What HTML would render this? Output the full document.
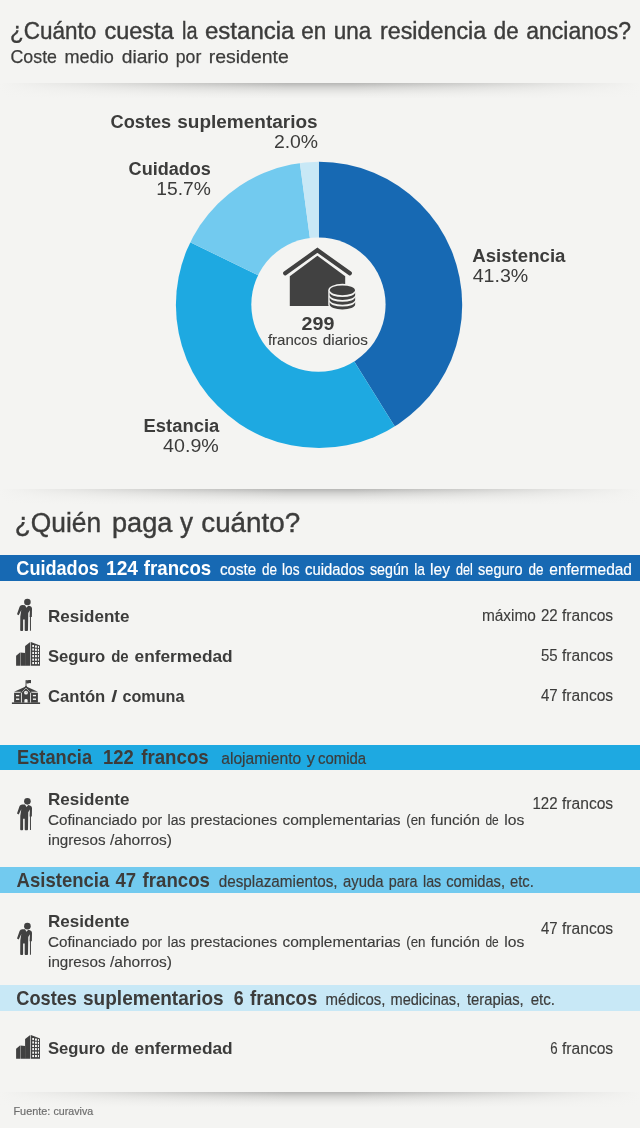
<!DOCTYPE html>
<html><head><meta charset="utf-8"><title>Residencia de ancianos</title>
<style>
html,body{margin:0;padding:0}
body{width:640px;height:1128px;background:#f4f4f2;position:relative;overflow:hidden;font-family:"Liberation Sans",sans-serif}
.t{position:absolute;white-space:nowrap;line-height:1;transform-origin:0 0;will-change:transform}
.b{font-weight:bold}
.bar{position:absolute;left:0;width:640px}
.sh{position:absolute;left:0;width:640px;height:16px;background:linear-gradient(to right,rgba(244,244,242,1) 0%,rgba(244,244,242,0.75) 12%,rgba(244,244,242,0.35) 28%,rgba(244,244,242,0) 45%,rgba(244,244,242,0) 55%,rgba(244,244,242,0.35) 72%,rgba(244,244,242,0.75) 88%,rgba(244,244,242,1) 100%),linear-gradient(to bottom,rgba(0,0,0,0.25) 0px,rgba(0,0,0,0.2) 2px,rgba(0,0,0,0.14) 4px,rgba(0,0,0,0.075) 7.5px,rgba(0,0,0,0.03) 11px,rgba(0,0,0,0) 15.5px)}
</style></head>
<body>
<div class="sh" style="top:83px"></div>
<div class="sh" style="top:489px"></div>
<div class="sh" style="top:1092px"></div>
<div class="bar" style="top:555px;height:26px;background:#1769b3"></div>
<div class="bar" style="top:744.5px;height:25px;background:#1ea9e1"></div>
<div class="bar" style="top:867px;height:25.5px;background:#72caef"></div>
<div class="bar" style="top:985px;height:26px;background:#c8e8f6"></div>
<svg width="640" height="1128" viewBox="0 0 640 1128" style="position:absolute;left:0;top:0;will-change:transform">
<clipPath id="oc"><circle cx="319.05" cy="304.9" r="143.15"/></clipPath>
<g clip-path="url(#oc)"><path d="M318.80,304.70 L318.80,144.70 L346.22,147.07 L372.82,154.10 L397.83,165.58 L420.50,181.18 L440.16,200.43 L456.23,222.77 L468.24,247.53 L475.82,273.99 L478.76,301.35 L476.97,328.81 L470.50,355.56 L459.54,380.80 L444.42,403.79 L425.58,423.85 L403.59,440.39 Z" fill="#1769b3"/><path d="M318.80,304.70 L403.59,440.39 L379.10,452.90 L352.83,461.04 L325.56,464.56 L298.08,463.35 L271.22,457.46 L245.76,447.06 L222.46,432.45 L202.01,414.06 L185.01,392.45 L171.96,368.24 L163.25,342.16 L159.13,314.97 L159.73,287.48 L165.03,260.49 L174.87,234.81 Z" fill="#1ea9e1"/><path d="M318.80,304.70 L174.87,234.81 L188.24,212.20 L205.14,192.09 L225.09,175.01 L247.58,161.43 L271.98,151.70 L297.64,146.11 Z" fill="#72caef"/><path d="M318.80,304.70 L297.64,146.11 L318.80,144.70 Z" fill="#c8e8f6"/></g>
<circle cx="318.45" cy="304.6" r="67.15" fill="#f4f4f2"/>
<g>
<path fill="none" stroke="#414141" stroke-width="4.2" stroke-linecap="round" stroke-linejoin="miter" d="M285.2,273.2 L317.4,250.2 L349.8,273.2"/>
<path fill="#414141" d="M317.4,255.8 L345.2,276.2 L345.2,305.9 L289.8,305.9 L289.8,276.2 Z"/>
<path fill="#f4f4f2" d="M328.25,290.3 A14.15,6.45 0 0 1 356.55,290.3 L356.55,304.55 A14.15,6.45 0 0 1 328.25,304.55 Z"/><ellipse cx="342.4" cy="290.3" rx="12.55" ry="4.85" fill="#414141"/><path fill="#414141" d="M329.65,292.20 A12.75,4.85 0 0 0 355.15,292.20 L355.15,295.05 A12.75,4.85 0 0 1 329.65,295.05 Z"/><path fill="#414141" d="M329.65,296.95 A12.75,4.85 0 0 0 355.15,296.95 L355.15,299.80 A12.75,4.85 0 0 1 329.65,299.80 Z"/><path fill="#414141" d="M329.65,301.70 A12.75,4.85 0 0 0 355.15,301.70 L355.15,304.55 A12.75,4.85 0 0 1 329.65,304.55 Z"/>
</g>
<g transform="translate(5,592)" fill="#414141">
<circle cx="22.4" cy="10.05" r="3.3"/>
<path d="M17.2,13.1 L20,13.2 L21.5,15.7 L23.2,13.7 L25,14.1 Q27,14.6 27,16.6 L26.85,25.1 L25.95,25.1 L25.95,38.7 L24.95,38.7 L24.95,25.1 L24.6,25.1 L24.9,18.2 L23.25,21 L23,38 Q23,38.9 22.2,38.9 L20.5,38.9 Q19.7,38.9 19.7,38 L19.7,27.5 L18.1,27.5 L18.1,38 Q18.1,38.9 17.3,38.9 L16,38.9 Q15.2,38.9 15.2,38 L15.3,24.5 L16.3,18 L13.7,23.3 L12,22.3 L14.6,14.8 Q15.3,13.1 17.2,13.1 Z"/>
</g>
<g transform="translate(8,636)">
<path fill="#414141" d="M22.9,6.1 L32,9.4 L32,29.7 L22.9,29.7 Z"/>
<path fill="#414141" d="M17.1,10 L22.25,6 L22.25,29.7 L17.1,29.7 Z"/>
<path fill="#414141" d="M12.4,16.5 L17.2,16.9 L17.2,29.7 L12.4,29.7 Z"/>
<path fill="#414141" d="M8.1,19.7 L12,16.5 L12,29.7 L8.1,29.7 Z"/>
<g fill="#f4f4f2"><rect x="24.25" y="9.00" width="1.75" height="2.1"/><rect x="24.25" y="12.40" width="1.75" height="2.1"/><rect x="24.25" y="15.90" width="1.75" height="2.1"/><rect x="24.25" y="19.10" width="1.75" height="2.1"/><rect x="24.25" y="22.60" width="1.75" height="2.1"/><rect x="24.25" y="26.00" width="1.75" height="2.1"/><rect x="27.0" y="9.55" width="1.90" height="2.1"/><rect x="27.0" y="12.70" width="1.90" height="2.1"/><rect x="27.0" y="15.90" width="1.90" height="2.1"/><rect x="27.0" y="19.10" width="1.90" height="2.1"/><rect x="27.0" y="22.60" width="1.90" height="2.1"/><rect x="27.0" y="26.00" width="1.90" height="2.1"/><rect x="29.9" y="10.10" width="1.10" height="2.1"/><rect x="29.9" y="13.00" width="1.10" height="2.1"/><rect x="29.9" y="15.90" width="1.10" height="2.1"/><rect x="29.9" y="19.10" width="1.10" height="2.1"/><rect x="29.9" y="22.60" width="1.10" height="2.1"/><rect x="29.9" y="26.00" width="1.10" height="2.1"/></g>
</g>
<g transform="translate(6,674)">
<rect fill="#414141" x="5.9" y="28.4" width="28.2" height="1.6"/>
<rect fill="#414141" x="8.1" y="18.75" width="7.2" height="9.8"/>
<rect fill="#414141" x="24.7" y="18.75" width="7.2" height="9.8"/>
<path fill="#414141" d="M8.1,17.75 L18.6,13.1 L20,12 L21.4,13.1 L31.9,17.75 Z"/>
<path fill="#414141" d="M20,12.6 L24.9,18.2 L24.9,28.5 L15.1,28.5 L15.1,18.2 Z"/>
<path fill="none" stroke="#f4f4f2" stroke-width="0.85" stroke-linejoin="miter" d="M15.45,28.5 L15.45,18.7 L20,13.75 L24.55,18.7 L24.55,28.5"/>
<path fill="none" stroke="#414141" stroke-width="1.15" stroke-linejoin="miter" d="M14.7,18.55 L20,12.55 L25.3,18.55"/>
<rect fill="#414141" x="19.55" y="6.2" width="0.9" height="6.4"/>
<path fill="#414141" d="M20.2,6 Q21.4,6.6 22.6,6.1 Q23.8,5.7 25,6.1 L25,9.3 Q23.8,8.9 22.6,9.3 Q21.4,9.8 20.2,9.3 Z"/>
<g fill="#f4f4f2">
<circle cx="20" cy="18.7" r="1.9"/>
<path d="M18.4,28.5 L18.4,26 Q18.4,24.9 20,24.9 Q21.6,24.9 21.6,26 L21.6,28.5 Z"/>
<rect x="10" y="20.9" width="3.25" height="1.4"/>
<rect x="10" y="24.5" width="3.25" height="1.4"/>
<rect x="26.9" y="20.9" width="3.1" height="1.4"/>
<rect x="26.9" y="24.5" width="3.1" height="1.4"/>
</g>
<path stroke="#414141" stroke-width="0.5" d="M20,18.8 L20.7,17.6"/>
</g>
<g transform="translate(5,791.3)" fill="#414141">
<circle cx="22.4" cy="10.05" r="3.3"/>
<path d="M17.2,13.1 L20,13.2 L21.5,15.7 L23.2,13.7 L25,14.1 Q27,14.6 27,16.6 L26.85,25.1 L25.95,25.1 L25.95,38.7 L24.95,38.7 L24.95,25.1 L24.6,25.1 L24.9,18.2 L23.25,21 L23,38 Q23,38.9 22.2,38.9 L20.5,38.9 Q19.7,38.9 19.7,38 L19.7,27.5 L18.1,27.5 L18.1,38 Q18.1,38.9 17.3,38.9 L16,38.9 Q15.2,38.9 15.2,38 L15.3,24.5 L16.3,18 L13.7,23.3 L12,22.3 L14.6,14.8 Q15.3,13.1 17.2,13.1 Z"/>
</g>
<g transform="translate(5,916.1)" fill="#414141">
<circle cx="22.4" cy="10.05" r="3.3"/>
<path d="M17.2,13.1 L20,13.2 L21.5,15.7 L23.2,13.7 L25,14.1 Q27,14.6 27,16.6 L26.85,25.1 L25.95,25.1 L25.95,38.7 L24.95,38.7 L24.95,25.1 L24.6,25.1 L24.9,18.2 L23.25,21 L23,38 Q23,38.9 22.2,38.9 L20.5,38.9 Q19.7,38.9 19.7,38 L19.7,27.5 L18.1,27.5 L18.1,38 Q18.1,38.9 17.3,38.9 L16,38.9 Q15.2,38.9 15.2,38 L15.3,24.5 L16.3,18 L13.7,23.3 L12,22.3 L14.6,14.8 Q15.3,13.1 17.2,13.1 Z"/>
</g>
<g transform="translate(8,1029)">
<path fill="#414141" d="M22.9,6.1 L32,9.4 L32,29.7 L22.9,29.7 Z"/>
<path fill="#414141" d="M17.1,10 L22.25,6 L22.25,29.7 L17.1,29.7 Z"/>
<path fill="#414141" d="M12.4,16.5 L17.2,16.9 L17.2,29.7 L12.4,29.7 Z"/>
<path fill="#414141" d="M8.1,19.7 L12,16.5 L12,29.7 L8.1,29.7 Z"/>
<g fill="#f4f4f2"><rect x="24.25" y="9.00" width="1.75" height="2.1"/><rect x="24.25" y="12.40" width="1.75" height="2.1"/><rect x="24.25" y="15.90" width="1.75" height="2.1"/><rect x="24.25" y="19.10" width="1.75" height="2.1"/><rect x="24.25" y="22.60" width="1.75" height="2.1"/><rect x="24.25" y="26.00" width="1.75" height="2.1"/><rect x="27.0" y="9.55" width="1.90" height="2.1"/><rect x="27.0" y="12.70" width="1.90" height="2.1"/><rect x="27.0" y="15.90" width="1.90" height="2.1"/><rect x="27.0" y="19.10" width="1.90" height="2.1"/><rect x="27.0" y="22.60" width="1.90" height="2.1"/><rect x="27.0" y="26.00" width="1.90" height="2.1"/><rect x="29.9" y="10.10" width="1.10" height="2.1"/><rect x="29.9" y="13.00" width="1.10" height="2.1"/><rect x="29.9" y="15.90" width="1.10" height="2.1"/><rect x="29.9" y="19.10" width="1.10" height="2.1"/><rect x="29.9" y="22.60" width="1.10" height="2.1"/><rect x="29.9" y="26.00" width="1.10" height="2.1"/></g>
</g>
<g font-family="Liberation Sans, sans-serif">
<text x="10.00" y="39" font-size="23" fill="#3c3c3b" stroke="#3c3c3b" stroke-width="0.4" textLength="86.22" lengthAdjust="spacingAndGlyphs">¿Cuánto</text>
<text x="104.50" y="39" font-size="23" fill="#3c3c3b" stroke="#3c3c3b" stroke-width="0.4" textLength="69.20" lengthAdjust="spacingAndGlyphs">cuesta</text>
<text x="182.00" y="39" font-size="23" fill="#3c3c3b" stroke="#3c3c3b" stroke-width="0.4" textLength="15.47" lengthAdjust="spacingAndGlyphs">la</text>
<text x="205.00" y="39" font-size="23" fill="#3c3c3b" stroke="#3c3c3b" stroke-width="0.4" textLength="89.48" lengthAdjust="spacingAndGlyphs">estancia</text>
<text x="301.25" y="39" font-size="23" fill="#3c3c3b" stroke="#3c3c3b" stroke-width="0.4" textLength="25.02" lengthAdjust="spacingAndGlyphs">en</text>
<text x="333.75" y="39" font-size="23" fill="#3c3c3b" stroke="#3c3c3b" stroke-width="0.4" textLength="37.50" lengthAdjust="spacingAndGlyphs">una</text>
<text x="380.00" y="39" font-size="23" fill="#3c3c3b" stroke="#3c3c3b" stroke-width="0.4" textLength="106.21" lengthAdjust="spacingAndGlyphs">residencia</text>
<text x="493.75" y="39" font-size="23" fill="#3c3c3b" stroke="#3c3c3b" stroke-width="0.4" textLength="24.77" lengthAdjust="spacingAndGlyphs">de</text>
<text x="526.25" y="39" font-size="23" fill="#3c3c3b" stroke="#3c3c3b" stroke-width="0.4" textLength="104.74" lengthAdjust="spacingAndGlyphs">ancianos?</text>
<text x="10.50" y="63" font-size="19" fill="#3c3c3b" stroke="#3c3c3b" stroke-width="0.25" textLength="46.51" lengthAdjust="spacingAndGlyphs">Coste</text>
<text x="64.50" y="63" font-size="19" fill="#3c3c3b" stroke="#3c3c3b" stroke-width="0.25" textLength="49.25" lengthAdjust="spacingAndGlyphs">medio</text>
<text x="121.75" y="63" font-size="19" fill="#3c3c3b" stroke="#3c3c3b" stroke-width="0.25" textLength="46.97" lengthAdjust="spacingAndGlyphs">diario</text>
<text x="175.75" y="63" font-size="19" fill="#3c3c3b" stroke="#3c3c3b" stroke-width="0.25" textLength="25.52" lengthAdjust="spacingAndGlyphs">por</text>
<text x="208.75" y="63" font-size="19" fill="#3c3c3b" stroke="#3c3c3b" stroke-width="0.25" textLength="79.98" lengthAdjust="spacingAndGlyphs">residente</text>
<text x="110.50" y="128" font-size="18" font-weight="bold" fill="#3c3c3b" textLength="60.72" lengthAdjust="spacingAndGlyphs">Costes</text>
<text x="177.30" y="128" font-size="18" font-weight="bold" fill="#3c3c3b" textLength="140.28" lengthAdjust="spacingAndGlyphs">suplementarios</text>
<text x="273.90" y="148" font-size="18" fill="#3c3c3b" textLength="44.23" lengthAdjust="spacingAndGlyphs">2.0%</text>
<text x="128.60" y="175" font-size="18" font-weight="bold" fill="#3c3c3b" textLength="82.30" lengthAdjust="spacingAndGlyphs">Cuidados</text>
<text x="156.30" y="195" font-size="18" fill="#3c3c3b" textLength="54.57" lengthAdjust="spacingAndGlyphs">15.7%</text>
<text x="472.20" y="262" font-size="18" font-weight="bold" fill="#3c3c3b" textLength="93.25" lengthAdjust="spacingAndGlyphs">Asistencia</text>
<text x="472.70" y="282" font-size="18" fill="#3c3c3b" textLength="55.57" lengthAdjust="spacingAndGlyphs">41.3%</text>
<text x="143.60" y="432" font-size="18" font-weight="bold" fill="#3c3c3b" textLength="75.71" lengthAdjust="spacingAndGlyphs">Estancia</text>
<text x="163.10" y="452" font-size="18" fill="#3c3c3b" textLength="55.67" lengthAdjust="spacingAndGlyphs">40.9%</text>
<text x="301.50" y="330" font-size="18.7" font-weight="bold" fill="#3c3c3b" textLength="32.89" lengthAdjust="spacingAndGlyphs">299</text>
<text x="267.90" y="345" font-size="14.2" fill="#3c3c3b" stroke="#3c3c3b" stroke-width="0.12" textLength="49.33" lengthAdjust="spacingAndGlyphs">francos</text>
<text x="322.80" y="345" font-size="14.2" fill="#3c3c3b" stroke="#3c3c3b" stroke-width="0.12" textLength="44.98" lengthAdjust="spacingAndGlyphs">diarios</text>
<text x="14.70" y="532" font-size="27" fill="#3c3c3b" stroke="#3c3c3b" stroke-width="0.4" textLength="86.48" lengthAdjust="spacingAndGlyphs">¿Quién</text>
<text x="112.00" y="532" font-size="27" fill="#3c3c3b" stroke="#3c3c3b" stroke-width="0.4" textLength="60.44" lengthAdjust="spacingAndGlyphs">paga</text>
<text x="180.00" y="532" font-size="27" fill="#3c3c3b" stroke="#3c3c3b" stroke-width="0.4" textLength="13.00" lengthAdjust="spacingAndGlyphs">y</text>
<text x="201.25" y="532" font-size="27" fill="#3c3c3b" stroke="#3c3c3b" stroke-width="0.4" textLength="98.97" lengthAdjust="spacingAndGlyphs">cuánto?</text>
<text x="16.30" y="575" font-size="19.8" font-weight="bold" fill="#ffffff" textLength="82.51" lengthAdjust="spacingAndGlyphs">Cuidados</text>
<text x="106.00" y="575" font-size="19.8" font-weight="bold" fill="#ffffff" textLength="31.99" lengthAdjust="spacingAndGlyphs">124</text>
<text x="143.75" y="575" font-size="19.8" font-weight="bold" fill="#ffffff" textLength="67.51" lengthAdjust="spacingAndGlyphs">francos</text>
<text x="220.00" y="575" font-size="16.8" fill="#ffffff" stroke="#ffffff" stroke-width="0.2" textLength="36.25" lengthAdjust="spacingAndGlyphs">coste</text>
<text x="262.00" y="575" font-size="16.8" fill="#ffffff" stroke="#ffffff" stroke-width="0.2" textLength="15.01" lengthAdjust="spacingAndGlyphs">de</text>
<text x="282.00" y="575" font-size="16.8" fill="#ffffff" stroke="#ffffff" stroke-width="0.2" textLength="17.49" lengthAdjust="spacingAndGlyphs">los</text>
<text x="305.00" y="575" font-size="16.8" fill="#ffffff" stroke="#ffffff" stroke-width="0.2" textLength="59.49" lengthAdjust="spacingAndGlyphs">cuidados</text>
<text x="370.00" y="575" font-size="16.8" fill="#ffffff" stroke="#ffffff" stroke-width="0.2" textLength="38.75" lengthAdjust="spacingAndGlyphs">según</text>
<text x="414.25" y="575" font-size="16.8" fill="#ffffff" stroke="#ffffff" stroke-width="0.2" textLength="10.72" lengthAdjust="spacingAndGlyphs">la</text>
<text x="430.00" y="575" font-size="16.8" fill="#ffffff" stroke="#ffffff" stroke-width="0.2" textLength="19.99" lengthAdjust="spacingAndGlyphs">ley</text>
<text x="456.00" y="575" font-size="16.8" fill="#ffffff" stroke="#ffffff" stroke-width="0.2" textLength="16.75" lengthAdjust="spacingAndGlyphs">del</text>
<text x="478.10" y="575" font-size="16.8" fill="#ffffff" stroke="#ffffff" stroke-width="0.2" textLength="44.37" lengthAdjust="spacingAndGlyphs">seguro</text>
<text x="528.50" y="575" font-size="16.8" fill="#ffffff" stroke="#ffffff" stroke-width="0.2" textLength="15.01" lengthAdjust="spacingAndGlyphs">de</text>
<text x="549.30" y="575" font-size="16.8" fill="#ffffff" stroke="#ffffff" stroke-width="0.2" textLength="82.68" lengthAdjust="spacingAndGlyphs">enfermedad</text>
<text x="48.00" y="622" font-size="16.2" font-weight="bold" fill="#3c3c3b" textLength="81.49" lengthAdjust="spacingAndGlyphs">Residente</text>
<text x="481.90" y="621" font-size="15.8" fill="#3c3c3b" stroke="#3c3c3b" stroke-width="0.12" textLength="53.98" lengthAdjust="spacingAndGlyphs">máximo</text>
<text x="541.00" y="621" font-size="15.8" fill="#3c3c3b" stroke="#3c3c3b" stroke-width="0.12" textLength="16.72" lengthAdjust="spacingAndGlyphs">22</text>
<text x="562.00" y="621" font-size="15.8" fill="#3c3c3b" stroke="#3c3c3b" stroke-width="0.12" textLength="51.18" lengthAdjust="spacingAndGlyphs">francos</text>
<text x="47.90" y="662" font-size="16.2" font-weight="bold" fill="#3c3c3b" textLength="57.41" lengthAdjust="spacingAndGlyphs">Seguro</text>
<text x="111.20" y="662" font-size="16.2" font-weight="bold" fill="#3c3c3b" textLength="17.51" lengthAdjust="spacingAndGlyphs">de</text>
<text x="134.50" y="662" font-size="16.2" font-weight="bold" fill="#3c3c3b" textLength="98.21" lengthAdjust="spacingAndGlyphs">enfermedad</text>
<text x="541.00" y="661" font-size="15.8" fill="#3c3c3b" stroke="#3c3c3b" stroke-width="0.12" textLength="16.72" lengthAdjust="spacingAndGlyphs">55</text>
<text x="562.00" y="661" font-size="15.8" fill="#3c3c3b" stroke="#3c3c3b" stroke-width="0.12" textLength="51.18" lengthAdjust="spacingAndGlyphs">francos</text>
<text x="47.90" y="702" font-size="16.2" font-weight="bold" fill="#3c3c3b" textLength="57.40" lengthAdjust="spacingAndGlyphs">Cantón</text>
<text x="111.20" y="702" font-size="16.2" font-weight="bold" fill="#3c3c3b" textLength="6.10" lengthAdjust="spacingAndGlyphs">/</text>
<text x="122.50" y="702" font-size="16.2" font-weight="bold" fill="#3c3c3b" textLength="61.98" lengthAdjust="spacingAndGlyphs">comuna</text>
<text x="541.00" y="701" font-size="15.8" fill="#3c3c3b" stroke="#3c3c3b" stroke-width="0.12" textLength="16.72" lengthAdjust="spacingAndGlyphs">47</text>
<text x="562.00" y="701" font-size="15.8" fill="#3c3c3b" stroke="#3c3c3b" stroke-width="0.12" textLength="51.18" lengthAdjust="spacingAndGlyphs">francos</text>
<text x="17.10" y="764" font-size="19.8" font-weight="bold" fill="#3c3c3b" textLength="74.92" lengthAdjust="spacingAndGlyphs">Estancia</text>
<text x="103.00" y="764" font-size="19.8" font-weight="bold" fill="#3c3c3b" textLength="30.79" lengthAdjust="spacingAndGlyphs">122</text>
<text x="141.25" y="764" font-size="19.8" font-weight="bold" fill="#3c3c3b" textLength="67.46" lengthAdjust="spacingAndGlyphs">francos</text>
<text x="221.25" y="764" font-size="16.8" fill="#3c3c3b" stroke="#3c3c3b" stroke-width="0.2" textLength="79.99" lengthAdjust="spacingAndGlyphs">alojamiento</text>
<text x="306.75" y="764" font-size="16.8" fill="#3c3c3b" stroke="#3c3c3b" stroke-width="0.2" textLength="8.22" lengthAdjust="spacingAndGlyphs">y</text>
<text x="318.00" y="764" font-size="16.8" fill="#3c3c3b" stroke="#3c3c3b" stroke-width="0.2" textLength="48.15" lengthAdjust="spacingAndGlyphs">comida</text>
<text x="48.00" y="805" font-size="16.2" font-weight="bold" fill="#3c3c3b" textLength="81.49" lengthAdjust="spacingAndGlyphs">Residente</text>
<text x="48.00" y="825" font-size="15.5" fill="#3c3c3b" stroke="#3c3c3b" stroke-width="0.15" textLength="88.98" lengthAdjust="spacingAndGlyphs">Cofinanciado</text>
<text x="142.00" y="825" font-size="15.5" fill="#3c3c3b" stroke="#3c3c3b" stroke-width="0.15" textLength="20.02" lengthAdjust="spacingAndGlyphs">por</text>
<text x="167.50" y="825" font-size="15.5" fill="#3c3c3b" stroke="#3c3c3b" stroke-width="0.15" textLength="18.00" lengthAdjust="spacingAndGlyphs">las</text>
<text x="190.50" y="825" font-size="15.5" fill="#3c3c3b" stroke="#3c3c3b" stroke-width="0.15" textLength="86.51" lengthAdjust="spacingAndGlyphs">prestaciones</text>
<text x="282.50" y="825" font-size="15.5" fill="#3c3c3b" stroke="#3c3c3b" stroke-width="0.15" textLength="118.02" lengthAdjust="spacingAndGlyphs">complementarias</text>
<text x="406.25" y="825" font-size="15.5" fill="#3c3c3b" stroke="#3c3c3b" stroke-width="0.15" textLength="19.27" lengthAdjust="spacingAndGlyphs">(en</text>
<text x="430.75" y="825" font-size="15.5" fill="#3c3c3b" stroke="#3c3c3b" stroke-width="0.15" textLength="49.23" lengthAdjust="spacingAndGlyphs">función</text>
<text x="485.50" y="825" font-size="15.5" fill="#3c3c3b" stroke="#3c3c3b" stroke-width="0.15" textLength="13.24" lengthAdjust="spacingAndGlyphs">de</text>
<text x="504.25" y="825" font-size="15.5" fill="#3c3c3b" stroke="#3c3c3b" stroke-width="0.15" textLength="20.05" lengthAdjust="spacingAndGlyphs">los</text>
<text x="48.00" y="845" font-size="15.5" fill="#3c3c3b" stroke="#3c3c3b" stroke-width="0.15" textLength="57.52" lengthAdjust="spacingAndGlyphs">ingresos</text>
<text x="110.00" y="845" font-size="15.5" fill="#3c3c3b" stroke="#3c3c3b" stroke-width="0.15" textLength="62.02" lengthAdjust="spacingAndGlyphs">/ahorros)</text>
<text x="532.50" y="809" font-size="15.8" fill="#3c3c3b" stroke="#3c3c3b" stroke-width="0.12" textLength="25.11" lengthAdjust="spacingAndGlyphs">122</text>
<text x="562.00" y="809" font-size="15.8" fill="#3c3c3b" stroke="#3c3c3b" stroke-width="0.12" textLength="51.18" lengthAdjust="spacingAndGlyphs">francos</text>
<text x="16.60" y="887" font-size="19.8" font-weight="bold" fill="#3c3c3b" textLength="92.67" lengthAdjust="spacingAndGlyphs">Asistencia</text>
<text x="115.50" y="887" font-size="19.8" font-weight="bold" fill="#3c3c3b" textLength="20.68" lengthAdjust="spacingAndGlyphs">47</text>
<text x="142.60" y="887" font-size="19.8" font-weight="bold" fill="#3c3c3b" textLength="67.41" lengthAdjust="spacingAndGlyphs">francos</text>
<text x="218.75" y="887" font-size="16.8" fill="#3c3c3b" stroke="#3c3c3b" stroke-width="0.2" textLength="118.78" lengthAdjust="spacingAndGlyphs">desplazamientos,</text>
<text x="343.00" y="887" font-size="16.8" fill="#3c3c3b" stroke="#3c3c3b" stroke-width="0.2" textLength="40.50" lengthAdjust="spacingAndGlyphs">ayuda</text>
<text x="388.75" y="887" font-size="16.8" fill="#3c3c3b" stroke="#3c3c3b" stroke-width="0.2" textLength="28.72" lengthAdjust="spacingAndGlyphs">para</text>
<text x="423.00" y="887" font-size="16.8" fill="#3c3c3b" stroke="#3c3c3b" stroke-width="0.2" textLength="18.24" lengthAdjust="spacingAndGlyphs">las</text>
<text x="446.25" y="887" font-size="16.8" fill="#3c3c3b" stroke="#3c3c3b" stroke-width="0.2" textLength="58.77" lengthAdjust="spacingAndGlyphs">comidas,</text>
<text x="510.00" y="887" font-size="16.8" fill="#3c3c3b" stroke="#3c3c3b" stroke-width="0.2" textLength="23.73" lengthAdjust="spacingAndGlyphs">etc.</text>
<text x="48.00" y="927" font-size="16.2" font-weight="bold" fill="#3c3c3b" textLength="81.49" lengthAdjust="spacingAndGlyphs">Residente</text>
<text x="48.00" y="947" font-size="15.5" fill="#3c3c3b" stroke="#3c3c3b" stroke-width="0.15" textLength="88.98" lengthAdjust="spacingAndGlyphs">Cofinanciado</text>
<text x="142.00" y="947" font-size="15.5" fill="#3c3c3b" stroke="#3c3c3b" stroke-width="0.15" textLength="20.02" lengthAdjust="spacingAndGlyphs">por</text>
<text x="167.50" y="947" font-size="15.5" fill="#3c3c3b" stroke="#3c3c3b" stroke-width="0.15" textLength="18.00" lengthAdjust="spacingAndGlyphs">las</text>
<text x="190.50" y="947" font-size="15.5" fill="#3c3c3b" stroke="#3c3c3b" stroke-width="0.15" textLength="86.51" lengthAdjust="spacingAndGlyphs">prestaciones</text>
<text x="282.50" y="947" font-size="15.5" fill="#3c3c3b" stroke="#3c3c3b" stroke-width="0.15" textLength="118.02" lengthAdjust="spacingAndGlyphs">complementarias</text>
<text x="406.25" y="947" font-size="15.5" fill="#3c3c3b" stroke="#3c3c3b" stroke-width="0.15" textLength="19.27" lengthAdjust="spacingAndGlyphs">(en</text>
<text x="430.75" y="947" font-size="15.5" fill="#3c3c3b" stroke="#3c3c3b" stroke-width="0.15" textLength="49.23" lengthAdjust="spacingAndGlyphs">función</text>
<text x="485.50" y="947" font-size="15.5" fill="#3c3c3b" stroke="#3c3c3b" stroke-width="0.15" textLength="13.24" lengthAdjust="spacingAndGlyphs">de</text>
<text x="504.25" y="947" font-size="15.5" fill="#3c3c3b" stroke="#3c3c3b" stroke-width="0.15" textLength="20.05" lengthAdjust="spacingAndGlyphs">los</text>
<text x="48.00" y="967" font-size="15.5" fill="#3c3c3b" stroke="#3c3c3b" stroke-width="0.15" textLength="57.52" lengthAdjust="spacingAndGlyphs">ingresos</text>
<text x="110.00" y="967" font-size="15.5" fill="#3c3c3b" stroke="#3c3c3b" stroke-width="0.15" textLength="62.02" lengthAdjust="spacingAndGlyphs">/ahorros)</text>
<text x="541.00" y="934" font-size="15.8" fill="#3c3c3b" stroke="#3c3c3b" stroke-width="0.12" textLength="16.62" lengthAdjust="spacingAndGlyphs">47</text>
<text x="562.00" y="934" font-size="15.8" fill="#3c3c3b" stroke="#3c3c3b" stroke-width="0.12" textLength="51.18" lengthAdjust="spacingAndGlyphs">francos</text>
<text x="16.30" y="1005" font-size="19.8" font-weight="bold" fill="#3c3c3b" textLength="60.70" lengthAdjust="spacingAndGlyphs">Costes</text>
<text x="83.00" y="1005" font-size="19.8" font-weight="bold" fill="#3c3c3b" textLength="140.70" lengthAdjust="spacingAndGlyphs">suplementarios</text>
<text x="233.80" y="1005" font-size="19.8" font-weight="bold" fill="#3c3c3b" textLength="9.92" lengthAdjust="spacingAndGlyphs">6</text>
<text x="250.00" y="1005" font-size="19.8" font-weight="bold" fill="#3c3c3b" textLength="67.41" lengthAdjust="spacingAndGlyphs">francos</text>
<text x="325.60" y="1005" font-size="16.8" fill="#3c3c3b" stroke="#3c3c3b" stroke-width="0.2" textLength="59.92" lengthAdjust="spacingAndGlyphs">médicos,</text>
<text x="390.50" y="1005" font-size="16.8" fill="#3c3c3b" stroke="#3c3c3b" stroke-width="0.2" textLength="69.69" lengthAdjust="spacingAndGlyphs">medicinas,</text>
<text x="467.00" y="1005" font-size="16.8" fill="#3c3c3b" stroke="#3c3c3b" stroke-width="0.2" textLength="56.74" lengthAdjust="spacingAndGlyphs">terapias,</text>
<text x="530.75" y="1005" font-size="16.8" fill="#3c3c3b" stroke="#3c3c3b" stroke-width="0.2" textLength="24.23" lengthAdjust="spacingAndGlyphs">etc.</text>
<text x="47.90" y="1054" font-size="16.2" font-weight="bold" fill="#3c3c3b" textLength="57.41" lengthAdjust="spacingAndGlyphs">Seguro</text>
<text x="111.20" y="1054" font-size="16.2" font-weight="bold" fill="#3c3c3b" textLength="17.51" lengthAdjust="spacingAndGlyphs">de</text>
<text x="134.50" y="1054" font-size="16.2" font-weight="bold" fill="#3c3c3b" textLength="98.21" lengthAdjust="spacingAndGlyphs">enfermedad</text>
<text x="550.20" y="1054" font-size="15.8" fill="#3c3c3b" stroke="#3c3c3b" stroke-width="0.12" textLength="7.38" lengthAdjust="spacingAndGlyphs">6</text>
<text x="562.00" y="1054" font-size="15.8" fill="#3c3c3b" stroke="#3c3c3b" stroke-width="0.12" textLength="51.18" lengthAdjust="spacingAndGlyphs">francos</text>
<text x="13.50" y="1115" font-size="10.8" fill="#6e6e6e" stroke="#6e6e6e" stroke-width="0.2" textLength="36.78" lengthAdjust="spacingAndGlyphs">Fuente:</text>
<text x="53.50" y="1115" font-size="10.8" fill="#6e6e6e" stroke="#6e6e6e" stroke-width="0.2" textLength="39.65" lengthAdjust="spacingAndGlyphs">curaviva</text>
</g>
</svg>
</body></html>
